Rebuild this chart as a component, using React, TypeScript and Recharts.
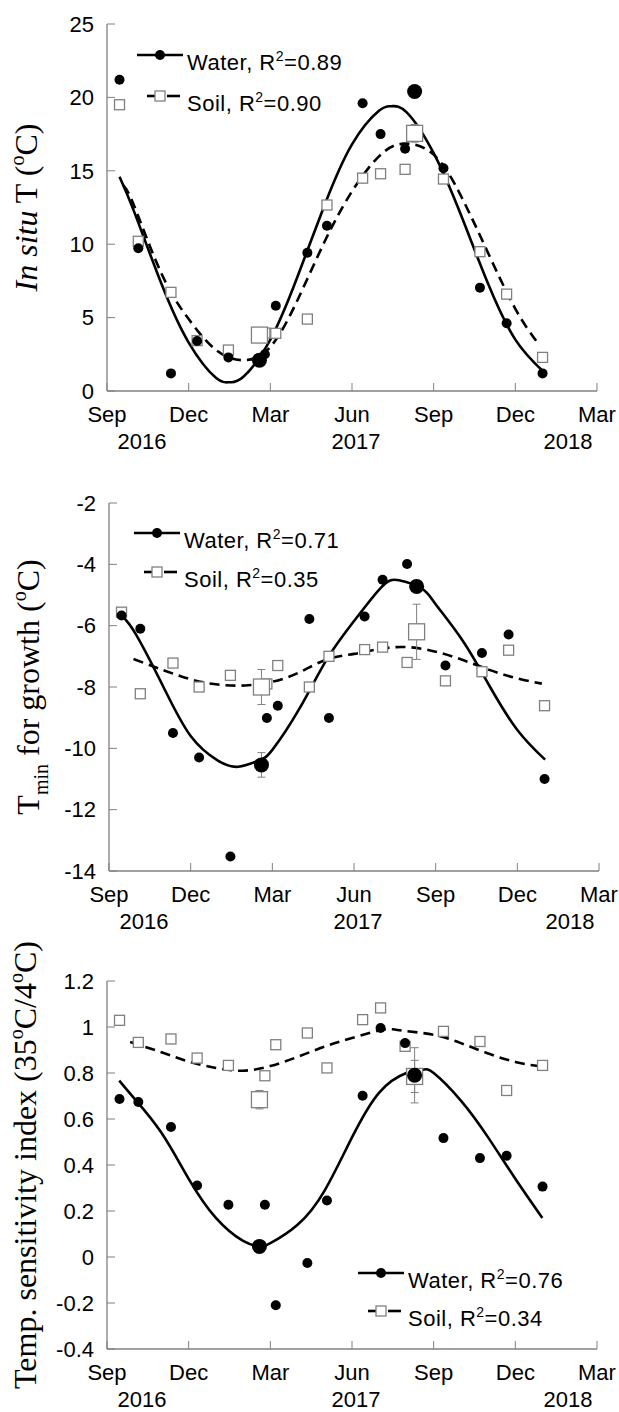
import React from "react";
import { ComposedChart, Line, Scatter, XAxis, YAxis, Legend, ErrorBar } from "recharts";

// x axis: months since 1 Sep 2016
const monthTicks = [0, 3, 6, 9, 12, 15, 18];
const monthLabels = ["Sep", "Dec", "Mar", "Jun", "Sep", "Dec", "Mar"];
const yearLabels = ["2016", "", "", "2017", "", "", "2018"];

// sampling dates (months) shared by the three panels
const sampleMonths = [0.46, 1.15, 2.35, 3.31, 4.46, 5.8, 6.2, 7.36, 8.08, 9.39, 10.05, 10.95, 12.36, 13.7, 14.68, 16.0];
const meanMonths = [5.6, 11.3];

// (A) in situ temperature
const tempTicks = [0, 5, 10, 15, 20, 25];
const waterTempA = [21.2, 9.72, 1.2, 3.4, 2.29, 2.5, 5.81, 9.42, 11.26, 19.6, 17.5, 16.5, 15.17, 7.04, 4.61, 1.2];
const soilTempA = [19.5, 10.2, 6.72, 3.43, 2.79, 3.95, 3.93, 4.9, 12.67, 14.5, 14.8, 15.1, 14.44, 9.49, 6.6, 2.29];
const waterMeanA = [2.1, 20.4];
const waterMeanErrA = [0, 0];
const soilMeanA = [3.81, 17.55];
const soilMeanErrA = [0, 0.6];
const waterFitMonthsA = [0.46, 1, 2, 3, 4, 4.5, 5, 6, 7, 8, 9, 10, 10.45, 11, 12, 13, 14, 15, 16.04];
const waterFitA = [14.6, 12.2, 7.3, 3.3, 0.9, 0.6, 0.95, 3.5, 7.8, 12.7, 16.8, 19.1, 19.4, 19.0, 16.2, 12.0, 7.3, 3.5, 1.3];
const soilFitMonthsA = [0.6, 1, 2, 3, 4, 5, 6, 7, 8, 9, 10, 10.9, 12, 13, 14, 15, 15.85];
const soilFitA = [14.0, 12.6, 8.0, 4.9, 2.8, 2.1, 3.0, 6.2, 10.2, 13.6, 16.0, 16.85, 16.1, 13.3, 9.4, 5.6, 3.2];

// (B) Tmin for growth
const tminTicks = [-14, -12, -10, -8, -6, -4, -2];
const waterTminB = [-5.67, -6.1, -9.5, -10.3, -13.53, -9.01, -8.61, -5.78, -9.01, -5.7, -4.5, -3.99, -7.3, -6.89, -6.29, -11.0];
const soilTminB = [-5.56, -8.22, -7.22, -8.0, -7.62, -7.9, -7.3, -8.0, -7.0, -6.78, -6.7, -7.2, -7.8, -7.5, -6.8, -8.61];
const waterMeanB = [-10.54, -4.72];
const waterMeanErrB = [0.4, 0.15];
const soilMeanB = [-8.0, -6.2];
const soilMeanErrB = [0.57, 0.9];
const waterFitMonthsB = [0.47, 1, 2, 3, 4, 4.75, 5.5, 6, 7, 8, 9, 10, 10.65, 11.5, 12, 13, 14, 15, 16.02];
const waterFitB = [-5.67, -6.3, -8.0, -9.6, -10.4, -10.6, -10.4, -10.05, -8.7, -7.1, -5.85, -4.75, -4.52, -4.8, -5.3, -6.5, -8.0, -9.4, -10.37];
const soilFitMonthsB = [0.9, 2, 3, 4, 5, 6, 7, 8, 9, 10, 11, 12, 13, 14, 15, 15.9];
const soilFitB = [-7.09, -7.45, -7.75, -7.92, -7.95, -7.83, -7.52, -7.1, -6.92, -6.75, -6.7, -6.85, -7.12, -7.45, -7.72, -7.89];

// (C) temperature sensitivity index
const tsiTicks = [-0.4, -0.2, 0, 0.2, 0.4, 0.6, 0.8, 1, 1.2];
const waterTsiC = [0.687, 0.674, 0.565, 0.311, 0.227, 0.227, -0.21, -0.026, 0.246, 0.701, 0.996, 0.93, 0.517, 0.43, 0.44, 0.306];
const soilTsiC = [1.029, 0.933, 0.948, 0.865, 0.833, 0.788, 0.923, 0.974, 0.822, 1.032, 1.083, 0.916, 0.981, 0.937, 0.724, 0.833];
const waterMeanC = [0.046, 0.79];
const waterMeanErrC = [0, 0.12];
const soilMeanC = [0.684, 0.785];
const soilMeanErrC = [0.04, 0.07];
const waterFitMonthsC = [0.45, 1, 2, 3, 4, 5, 5.6, 6, 7, 8, 9, 10, 11, 11.6, 12, 13, 14, 15, 15.99];
const waterFitC = [0.767, 0.69, 0.54, 0.34, 0.17, 0.07, 0.046, 0.06, 0.14, 0.29, 0.52, 0.715, 0.8, 0.814, 0.8, 0.68, 0.52, 0.34, 0.17];
const soilFitMonthsC = [0.85, 2, 3, 4, 5, 6, 7, 8, 9, 10, 10.5, 11, 12, 13, 14, 15, 15.9];
const soilFitC = [0.935, 0.89, 0.85, 0.822, 0.81, 0.83, 0.87, 0.915, 0.952, 0.985, 0.99, 0.982, 0.966, 0.93, 0.885, 0.848, 0.829];

const GRAY = "#808080";
const SANS = "'Liberation Sans', Arial, sans-serif";
const SERIF = "'Liberation Serif', 'Times New Roman', serif";

const pts = (xs: number[], ys: number[], errs?: number[]) =>
  xs.map((x, i) => ({ x, y: ys[i], err: errs ? errs[i] : 0 }));

const YEAR_DX = [35, 0, 0, 4, 0, 0, -29];

function MonthTick(props: any) {
  const { x, y, payload } = props;
  const i = monthTicks.indexOf(payload.value);
  return (
    <g>
      <text x={x} y={y + 31} textAnchor="middle" fontSize={22} fill="#000" fontFamily={SANS}>
        {monthLabels[i]}
      </text>
      {yearLabels[i] ? (
        <text x={x + YEAR_DX[i]} y={y + 58} textAnchor="middle" fontSize={22} fill="#000" fontFamily={SANS}>
          {yearLabels[i]}
        </text>
      ) : null}
    </g>
  );
}

function AxisTitle(props: any) {
  const vb = props.viewBox || { x: 0, y: 0, width: 0, height: 0 };
  const cy = vb.y + vb.height / 2;
  const bx = props.baseX;
  return (
    <text
      x={bx}
      y={cy}
      transform={`rotate(-90 ${bx} ${cy})`}
      textAnchor="middle"
      fontFamily={SERIF}
      fontSize={32}
      fill="#000"
      style={{ whiteSpace: "pre" }}
    >
      {props.titleNode}
    </text>
  );
}

function PanelTag(props: any) {
  const vb = props.viewBox || { x: 0, y: 0, width: 0, height: 0 };
  return (
    <text x={vb.x + vb.width - props.rightGap} y={vb.y + props.baseY} textAnchor="end" fontSize={22} fontFamily={SANS} fill="#000" letterSpacing={1}>
      {props.tag}
    </text>
  );
}

function LegendBox(props: any) {
  const r1 = 20;
  const r2 = 20 + props.rowGap;
  const txt = { fontSize: 22, fontFamily: SANS, fill: "#000", letterSpacing: 0.5 };
  return (
    <svg width={260} height={r2 + 25} style={{ overflow: "visible", display: "block" }}>
      <line x1={0} y1={r1} x2={46} y2={r1} stroke="#000" strokeWidth={2.6} />
      <circle cx={23} cy={r1} r={5} fill="#000" />
      <text x={50} y={r1 + 15} {...txt}>
        Water, R<tspan dy={-9} fontSize={14}>2</tspan>
        <tspan dy={9}>={props.waterR2}</tspan>
      </text>
      <line x1={10} y1={r2} x2={18} y2={r2} stroke="#000" strokeWidth={2.6} />
      <line x1={30} y1={r2} x2={43} y2={r2} stroke="#000" strokeWidth={2.6} />
      <rect x={18} y={r2 - 5} width={10} height={10} fill="#fff" stroke={GRAY} strokeWidth={1.3} />
      <text x={50} y={r2 + 15} {...txt}>
        Soil, R<tspan dy={-9} fontSize={14}>2</tspan>
        <tspan dy={9}>={props.soilR2}</tspan>
      </text>
    </svg>
  );
}

const dotShape = (r: number) => (p: any) => <circle cx={p.cx} cy={p.cy} r={r} fill="#000" />;
const squareShape = (s: number) => (p: any) => (
  <rect x={p.cx - s / 2} y={p.cy - s / 2} width={s} height={s} fill="#fff" stroke={GRAY} strokeWidth={1.3} />
);

const deg = (
  <>
    <tspan dy={-13} fontSize={20}>o</tspan>
    <tspan dy={13}>C</tspan>
  </>
);

const panels = [
  {
    id: "A", top: 0, height: 470, marginTop: 24, marginRight: 22, yAxisWidth: 107, xAxisHeight: 79,
    domain: [0, 25], ticks: tempTicks,
    water: waterTempA, soil: soilTempA,
    waterMean: waterMeanA, waterMeanErr: waterMeanErrA, soilMean: soilMeanA, soilMeanErr: soilMeanErrA,
    waterFit: pts(waterFitMonthsA, waterFitA), soilFit: pts(soilFitMonthsA, soilFitA),
    r2: ["0.89", "0.90"], legendPos: { left: 137, top: 35 }, rowGap: 41,
    tagGap: 31, tagY: 47, titleX: 37,
    title: (
      <>
        <tspan fontStyle="italic">In situ</tspan> T ({deg})
      </>
    ),
  },
  {
    id: "B", top: 470, height: 480, marginTop: 33, marginRight: 20, yAxisWidth: 109, xAxisHeight: 79,
    domain: [-14, -2], ticks: tminTicks,
    water: waterTminB, soil: soilTminB,
    waterMean: waterMeanB, waterMeanErr: waterMeanErrB, soilMean: soilMeanB, soilMeanErr: soilMeanErrB,
    waterFit: pts(waterFitMonthsB, waterFitB), soilFit: pts(soilFitMonthsB, soilFitB),
    r2: ["0.71", "0.35"], legendPos: { left: 134, top: 43 }, rowGap: 39,
    tagGap: 34, tagY: 45, titleX: 39,
    title: (
      <>
        T<tspan dy={9} fontSize={20}>min</tspan>
        <tspan dy={-9}> for growth (</tspan>
        {deg})
      </>
    ),
  },
  {
    // starts higher than its plot so the long rotated title is not clipped
    id: "C", top: 920, height: 492, marginTop: 61, marginRight: 22, yAxisWidth: 107, xAxisHeight: 63,
    domain: [-0.4, 1.2], ticks: tsiTicks,
    water: waterTsiC, soil: soilTsiC,
    waterMean: waterMeanC, waterMeanErr: waterMeanErrC, soilMean: soilMeanC, soilMeanErr: soilMeanErrC,
    waterFit: pts(waterFitMonthsC, waterFitC), soilFit: pts(soilFitMonthsC, soilFitC),
    r2: ["0.76", "0.34"], legendPos: { left: 358, top: 333 }, rowGap: 38,
    tagGap: 30, tagY: 52, titleX: 36,
    title: (
      <>
        Temp. sensitivity index (35{deg}/4{deg})
      </>
    ),
  },
];

function Panel({ cfg }: { cfg: any }) {
  const axisLine = { stroke: GRAY, strokeWidth: 1.3 };
  const tickLine = { stroke: GRAY, strokeWidth: 1 };
  return (
    <div style={{ position: "absolute", left: 0, top: cfg.top }}>
      <ComposedChart
        width={619}
        height={cfg.height}
        margin={{ top: cfg.marginTop, right: cfg.marginRight, left: 0, bottom: 0 }}
      >
        <XAxis
          type="number"
          dataKey="x"
          domain={[0, 18]}
          ticks={monthTicks}
          interval={0}
          height={cfg.xAxisHeight}
          axisLine={axisLine}
          tickLine={tickLine}
          tickSize={-8}
          tickMargin={8}
          tick={(p: any) => <MonthTick {...p} />}
        />
        <XAxis
          xAxisId="top"
          orientation="top"
          type="number"
          domain={[0, 18]}
          ticks={monthTicks}
          interval={0}
          height={0}
          axisLine={axisLine}
          tickLine={tickLine}
          tickSize={-8}
          tick={false}
          label={<PanelTag tag={`(${cfg.id})`} rightGap={cfg.tagGap} baseY={cfg.tagY} />}
        />
        <YAxis
          type="number"
          dataKey="y"
          domain={cfg.domain}
          ticks={cfg.ticks}
          interval={0}
          width={cfg.yAxisWidth}
          axisLine={axisLine}
          tickLine={tickLine}
          tickSize={-8}
          tickMargin={21}
          tick={{ fontSize: 22, fill: "#000", fontFamily: SANS }}
          label={<AxisTitle baseX={cfg.titleX} titleNode={cfg.title} />}
        />
        <YAxis
          yAxisId="right"
          orientation="right"
          type="number"
          domain={cfg.domain}
          ticks={cfg.ticks}
          interval={0}
          width={0}
          axisLine={axisLine}
          tickLine={tickLine}
          tickSize={-8}
          tick={false}
        />
        <Legend
          layout="horizontal"
          verticalAlign="middle"
          align="center"
          wrapperStyle={{ left: cfg.legendPos.left, top: cfg.legendPos.top, width: 260, height: 90 }}
          content={<LegendBox waterR2={cfg.r2[0]} soilR2={cfg.r2[1]} rowGap={cfg.rowGap} />}
        />
        <Line data={cfg.waterFit} dataKey="y" type="natural" stroke="#000" strokeWidth={2.6} dot={false} activeDot={false} isAnimationActive={false} />
        <Line data={cfg.soilFit} dataKey="y" type="natural" stroke="#000" strokeWidth={2.6} strokeDasharray="10 6" dot={false} activeDot={false} isAnimationActive={false} />
        <Scatter data={pts(sampleMonths, cfg.soil)} shape={squareShape(10)} isAnimationActive={false} />
        <Scatter data={pts(meanMonths, cfg.soilMean, cfg.soilMeanErr)} shape={squareShape(16)} isAnimationActive={false}>
          <ErrorBar dataKey="err" direction="y" width={4} stroke={GRAY} strokeWidth={1} />
        </Scatter>
        <Scatter data={pts(sampleMonths, cfg.water)} shape={dotShape(5)} isAnimationActive={false} />
        <Scatter data={pts(meanMonths, cfg.waterMean, cfg.waterMeanErr)} shape={dotShape(7.5)} isAnimationActive={false}>
          <ErrorBar dataKey="err" direction="y" width={4} stroke={GRAY} strokeWidth={1} />
        </Scatter>
      </ComposedChart>
    </div>
  );
}

export default function App() {
  return (
    <div style={{ position: "absolute", left: 0, top: 0, width: 619, height: 1412, background: "#fff", fontFamily: SANS }}>
      {panels.map((cfg) => (
        <Panel key={cfg.id} cfg={cfg} />
      ))}
    </div>
  );
}
